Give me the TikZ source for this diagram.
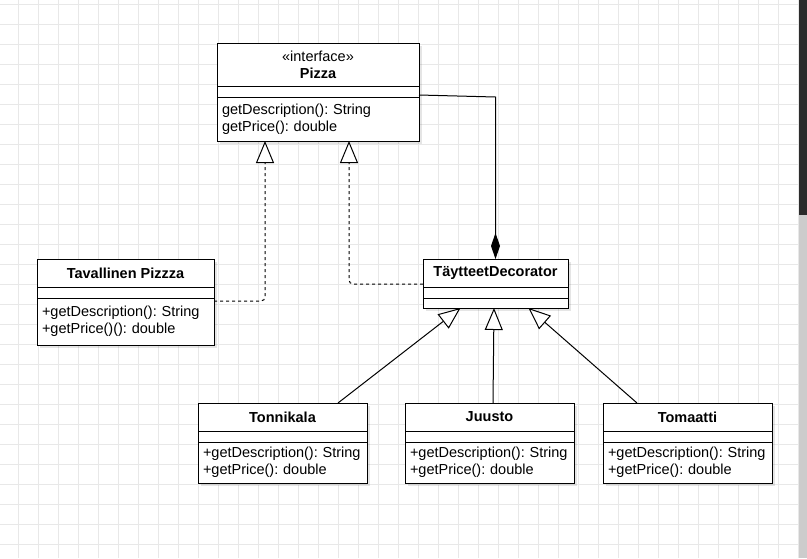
\documentclass[tikz,border=0pt]{standalone}
\usepackage{fontspec}
\setmainfont{Liberation Sans}
\usetikzlibrary{arrows.meta,positioning,shadows}
\frenchspacing

\begin{document}
\begin{tikzpicture}[x=1pt, y=-1pt,
  every node/.style={font=\fontsize{14.5}{17}\selectfont},
  gridline/.style={draw=black!9, line width=0.8pt},
  box/.style={draw, fill=white, line width=1pt, outer sep=0pt, inner sep=0pt,
    drop shadow={shadow xshift=3pt, shadow yshift=-3pt, fill=black, opacity=0.1}},
  classname/.style={box, font=\fontsize{14.5}{17}\selectfont\bfseries, align=center, minimum width=#1, minimum height=28pt},
  slot/.style={box, minimum width=#1, minimum height=11pt},
  ops/.style={box, align=left, inner xsep=5pt},
  realize/.style={line width=1pt, dash pattern=on 3pt off 3pt, rounded corners=4pt,
    -{Triangle[open, length=22pt, width=18pt, fill=white]}},
  extend/.style={line width=1pt, -{Triangle[open, length=22pt, width=18pt, fill=white]}},
  whole/.style={line width=1pt, -{Diamond[length=26pt, width=9pt]}}]
\useasboundingbox (0,0) rectangle (807,558);
\fill[white] (0,0) rectangle (807,558);
\foreach \x in {18,38,...,798} \draw[gridline] (\x,0) -- (\x,558);
\foreach \y in {4,24,...,544} \draw[gridline] (0,\y) -- (799,\y);
\fill[black!83] (799,0) rectangle (807,215);
\fill[black!20] (799,215) rectangle (807,558);

\node[classname=202pt, minimum height=43pt] (pizza-head) at (318,64.5) {{\mdseries «interface»}\\Pizza};
\node[slot=202pt, below=0pt of pizza-head] (pizza-slot) {};
\node[ops, text width=192pt, minimum height=44pt, below=0pt of pizza-slot] (pizza-ops) {getDescription(): String\\getPrice(): double};

\node[classname=177pt] (tav-head) at (125.5,273) {Tavallinen Pizzza};
\node[slot=177pt, below=0pt of tav-head] (tav-slot) {};
\node[ops, text width=167pt, minimum height=47pt, below=0pt of tav-slot] (tav-ops) {+getDescription(): String\\+getPrice()(): double};

\node[classname=145pt] (tate-head) at (495.5,273) {TäytteetDecorator};
\node[slot=145pt, below=0pt of tate-head] (tate-slot) {};
\node[slot=145pt, minimum height=10pt, below=0pt of tate-slot] (tate-ops) {};

\node[classname=169pt] (tonni-head) at (282.5,417) {Tonnikala};
\node[slot=169pt, below=0pt of tonni-head] (tonni-slot) {};
\node[ops, text width=159pt, minimum height=41pt, below=0pt of tonni-slot] (tonni-ops) {+getDescription(): String\\+getPrice(): double};

\node[classname=169pt] (juusto-head) at (489.5,417) {Juusto};
\node[slot=169pt, below=0pt of juusto-head] (juusto-slot) {};
\node[ops, text width=159pt, minimum height=41pt, below=0pt of juusto-slot] (juusto-ops) {+getDescription(): String\\+getPrice(): double};

\node[classname=169pt] (toma-head) at (687.5,417) {Tomaatti};
\node[slot=169pt, below=0pt of toma-head] (toma-slot) {};
\node[ops, text width=159pt, minimum height=41pt, below=0pt of toma-slot] (toma-ops) {+getDescription(): String\\+getPrice(): double};

\draw[realize] ([yshift=-3pt]tav-ops.north east) -| ([xshift=48pt]pizza-ops.south west);
\draw[realize] ([yshift=-11pt]tate-head.west) -| ([xshift=132pt]pizza-ops.south west);
\draw[whole] ([yshift=2pt]pizza-slot.south east) -- (tate-head.north |- pizza-slot.south) -- (tate-head.north);
\draw[extend] ([xshift=55.5pt]tonni-head.north) -- ([xshift=-35pt]tate-ops.south);
\draw[extend] ([xshift=3.5pt]juusto-head.north) -- ([xshift=-1.5pt]tate-ops.south);
\draw[extend] ([xshift=-50.5pt]toma-head.north) -- ([xshift=33pt]tate-ops.south);
\end{tikzpicture}
\end{document}
